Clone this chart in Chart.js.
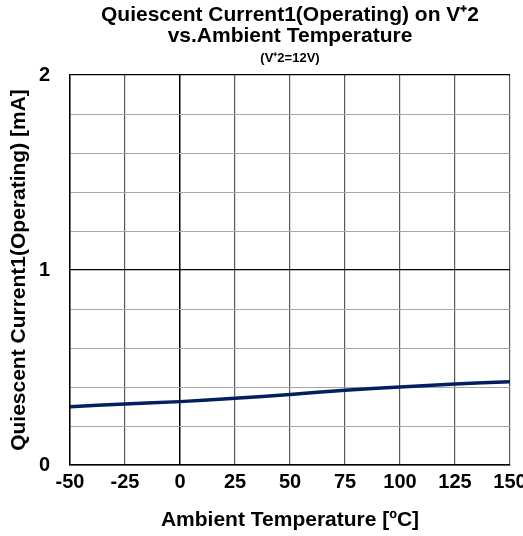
<!doctype html>
<html lang="en-US">
<head>
    <meta charset="UTF-8" />
    <title>Quiescent Current1 vs. Ambient Temperature</title>
    <style>
        html, body { margin: 0; padding: 0; background: #fff; }
        #wrap { width: 523px; height: 536px; }
    </style>
</head>
<body>
    <div id="wrap"><canvas id="chart" width="523" height="536"></canvas></div>
    <script src="https://cdn.jsdelivr.net/npm/chart.js"></script>
    <script>
        // Data.
        const temps = [-50, -25, 0, 25, 50, 75, 100, 125, 150];
        const current = [0.299, 0.313, 0.325, 0.342, 0.362, 0.383, 0.400, 0.415, 0.427];
        const titleLines = ['Quiescent Current1(Operating) on V\u207A2', 'vs.Ambient Temperature'];
        const subTitle = '(V\u207A2=12V)';
        const xTitle = 'Ambient Temperature [\u00BAC]';
        const yTitle = 'Quiescent Current1(Operating) [mA]';

        const FONT = "'Liberation Sans', Arial, sans-serif";
        Chart.defaults.font.family = FONT;
        Chart.defaults.color = '#000';

        const isInt = v => Math.abs(v - Math.round(v)) < 1e-6;

        new Chart(document.getElementById('chart'), {
            type: 'line',
            data: {
                datasets: [{
                    data: temps.map((t, i) => ({ x: t, y: current[i] })),
                    borderColor: '#002060',
                    borderWidth: 3.5,
                    pointRadius: 0,
                    tension: 0.3,
                    fill: false,
                }],
            },
            options: {
                responsive: false,
                animation: false,
                layout: { padding: { top: 0, right: 13, left: 0, bottom: 0 } },
                plugins: {
                    legend: { display: false },
                    tooltip: { enabled: false },
                    title: {
                        display: true,
                        fullSize: false,
                        text: titleLines,
                        color: '#000',
                        font: { size: 21, weight: 'bold', lineHeight: 1.0 },
                        padding: { top: 5, bottom: 2 },
                    },
                    subtitle: {
                        display: true,
                        fullSize: false,
                        text: subTitle,
                        color: '#000',
                        font: { size: 13, weight: 'bold', lineHeight: 1.0 },
                        padding: { top: 3, bottom: 10 },
                    },
                },
                scales: {
                    x: {
                        type: 'linear',
                        min: -50,
                        max: 150,
                        afterFit: s => { s.height = 71; s.paddingLeft = 0; s.paddingRight = 0; },
                        ticks: {
                            stepSize: 25,
                            padding: 5,
                            maxRotation: 0,
                            font: { size: 20, weight: 'bold' },
                            color: '#000',
                        },
                        grid: {
                            drawTicks: false,
                            color: c => (c.tick && c.tick.value === 0 ? '#000' : '#595959'),
                            lineWidth: c => (c.tick && c.tick.value === 0 ? 1.5 : 1.2),
                        },
                        border: { color: '#000', width: 1.5 },
                        title: {
                            display: true,
                            text: xTitle,
                            font: { size: 21, weight: 'bold' },
                            color: '#000',
                            padding: { top: 0, bottom: 3 },
                        },
                    },
                    y: {
                        min: 0,
                        max: 2,
                        afterFit: s => { s.width = 70; },
                        ticks: {
                            stepSize: 0.2,
                            padding: 20,
                            font: { size: 20, weight: 'bold' },
                            color: '#000',
                            callback: v => (isInt(v) ? String(Math.round(v)) : ''),
                        },
                        grid: {
                            drawTicks: false,
                            color: c => (c.tick && isInt(c.tick.value) ? '#000' : '#a6a6a6'),
                            lineWidth: c => (c.tick && isInt(c.tick.value) ? 1.2 : 1),
                        },
                        border: { color: '#000', width: 1.5 },
                        title: {
                            display: true,
                            text: yTitle,
                            font: { size: 21, weight: 'bold' },
                            color: '#000',
                            padding: { top: 7, bottom: 0 },
                        },
                    },
                },
            },
        });
    </script>
</body>
</html>
